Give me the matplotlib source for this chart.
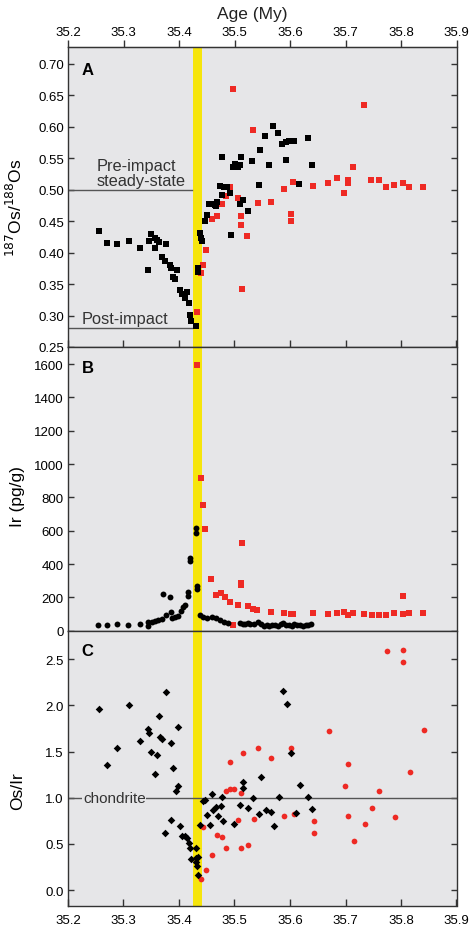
import numpy as np
import matplotlib.pyplot as plt

plt.rcParams['font.family'] = ['Liberation Sans', 'DejaVu Sans']

# ---- panel A: 187Os/188Os ----
a_blk_x = [35.255, 35.271, 35.289, 35.310, 35.329, 35.345, 35.346, 35.350, 35.356, 35.360,
           35.364, 35.356, 35.377, 35.369, 35.374, 35.384, 35.385, 35.397, 35.390, 35.393,
           35.402, 35.406, 35.411, 35.415, 35.410, 35.418, 35.420, 35.421, 35.430, 35.434,
           35.434, 35.438, 35.439, 35.441, 35.446, 35.450, 35.454, 35.460, 35.464, 35.468,
           35.467, 35.474, 35.478, 35.481, 35.486, 35.491, 35.477, 35.497, 35.501, 35.507,
           35.510, 35.512, 35.494, 35.510, 35.515, 35.524, 35.531, 35.545, 35.546, 35.555,
           35.569, 35.578, 35.563, 35.586, 35.592, 35.599, 35.607, 35.592, 35.617, 35.632,
           35.639]
a_blk_y = [0.434, 0.415, 0.413, 0.419, 0.408, 0.373, 0.418, 0.429, 0.423, 0.420,
           0.417, 0.408, 0.414, 0.393, 0.386, 0.381, 0.375, 0.372, 0.361, 0.358,
           0.340, 0.335, 0.332, 0.338, 0.328, 0.320, 0.301, 0.291, 0.284, 0.375,
           0.369, 0.432, 0.423, 0.418, 0.450, 0.460, 0.477, 0.478, 0.475, 0.481,
           0.474, 0.506, 0.492, 0.505, 0.505, 0.495, 0.552, 0.536, 0.541, 0.536,
           0.539, 0.552, 0.428, 0.477, 0.483, 0.466, 0.545, 0.508, 0.564, 0.585,
           0.602, 0.590, 0.539, 0.573, 0.576, 0.578, 0.577, 0.548, 0.509, 0.582,
           0.540]
a_red_x = [35.498, 35.534, 35.492, 35.485, 35.507, 35.477, 35.459, 35.468, 35.512, 35.512,
           35.522, 35.542, 35.448, 35.444, 35.440, 35.433, 35.513, 35.566, 35.589, 35.602,
           35.602, 35.605, 35.641, 35.669, 35.685, 35.697, 35.704, 35.704, 35.714, 35.734,
           35.746, 35.760, 35.773, 35.788, 35.803, 35.815, 35.840]
a_red_y = [0.661, 0.595, 0.504, 0.490, 0.487, 0.477, 0.454, 0.459, 0.459, 0.444,
           0.427, 0.479, 0.405, 0.380, 0.367, 0.306, 0.343, 0.481, 0.502, 0.462,
           0.451, 0.512, 0.506, 0.511, 0.519, 0.495, 0.515, 0.510, 0.536, 0.634,
           0.516, 0.516, 0.505, 0.507, 0.511, 0.504, 0.504]

# ---- panel B: Ir (pg/g) ----
b_blk_x = [35.254, 35.270, 35.288, 35.308, 35.329, 35.345, 35.345, 35.351, 35.357, 35.363,
           35.369, 35.372, 35.377, 35.384, 35.385, 35.387, 35.393, 35.399, 35.404, 35.408,
           35.411, 35.417, 35.417, 35.420, 35.420, 35.430, 35.430, 35.432, 35.432, 35.438,
           35.444, 35.451, 35.459, 35.467, 35.474, 35.481, 35.489, 35.510, 35.515, 35.519,
           35.524, 35.528, 35.535, 35.543, 35.548, 35.553, 35.558, 35.563, 35.568, 35.573,
           35.578, 35.583, 35.588, 35.593, 35.598, 35.603, 35.608, 35.613, 35.618, 35.623,
           35.628, 35.633, 35.638]
b_blk_y = [36, 36, 42, 34, 38, 50, 30, 54, 58, 62,
           70, 220, 94, 200, 110, 74, 80, 86, 120, 140,
           154, 210, 230, 434, 420, 614, 586, 270, 250, 94,
           80, 74, 80, 74, 66, 54, 44, 46, 40, 42,
           44, 42, 38, 50, 40, 30, 32, 28, 34, 36,
           30, 40, 46, 36, 34, 30, 38, 32, 36, 30,
           34, 36, 40]
b_red_x = [35.432, 35.439, 35.444, 35.447, 35.458, 35.467, 35.476, 35.483, 35.491, 35.506,
           35.513, 35.512, 35.512, 35.524, 35.533, 35.541, 35.498, 35.566, 35.589, 35.601,
           35.605, 35.641, 35.669, 35.685, 35.697, 35.704, 35.714, 35.734, 35.747, 35.760,
           35.773, 35.788, 35.803, 35.803, 35.815, 35.840]
b_red_y = [1596, 916, 756, 610, 310, 216, 226, 204, 170, 156,
           526, 286, 274, 150, 130, 124, 36, 110, 108, 102,
           102, 106, 100, 104, 114, 94, 106, 98, 96, 94,
           96, 106, 206, 98, 106, 106]

# ---- panel C: Os/Ir ----
c_blk_x = [35.255, 35.271, 35.289, 35.310, 35.329, 35.345, 35.346, 35.350, 35.357, 35.360,
           35.364, 35.366, 35.370, 35.377, 35.385, 35.398, 35.390, 35.398, 35.395, 35.374,
           35.386, 35.402, 35.406, 35.411, 35.415, 35.418, 35.419, 35.421, 35.431, 35.431,
           35.431, 35.432, 35.435, 35.434, 35.438, 35.443, 35.447, 35.450, 35.455, 35.460,
           35.462, 35.467, 35.470, 35.476, 35.478, 35.479, 35.500, 35.510, 35.515, 35.515,
           35.524, 35.533, 35.545, 35.547, 35.557, 35.565, 35.571, 35.580, 35.587, 35.594,
           35.602, 35.610, 35.618, 35.633, 35.640]
c_blk_y = [1.96, 1.36, 1.54, 2.00, 1.61, 1.75, 1.70, 1.50, 1.26, 1.46,
           1.89, 1.66, 1.64, 2.15, 1.59, 1.77, 1.32, 1.13, 1.07, 0.62,
           0.76, 0.69, 0.59, 0.58, 0.56, 0.51, 0.46, 0.34, 0.45, 0.35,
           0.30, 0.26, 0.36, 0.16, 0.70, 0.96, 0.97, 0.81, 0.70, 1.04,
           0.87, 0.90, 0.80, 0.91, 1.01, 0.75, 0.72, 0.92, 1.17, 1.11,
           0.89, 1.00, 0.82, 1.22, 0.87, 0.84, 0.69, 1.01, 2.16, 2.02,
           1.49, 0.83, 1.14, 1.01, 0.88]
c_red_x = [35.444, 35.440, 35.448, 35.459, 35.468, 35.477, 35.485, 35.485, 35.492, 35.492,
           35.500, 35.512, 35.507, 35.512, 35.515, 35.524, 35.536, 35.542, 35.566, 35.590,
           35.602, 35.607, 35.643, 35.643, 35.670, 35.699, 35.705, 35.705, 35.715, 35.736,
           35.747, 35.761, 35.775, 35.789, 35.804, 35.804, 35.817, 35.841]
c_red_y = [0.68, 0.12, 0.22, 0.38, 0.60, 0.57, 0.46, 1.07, 1.39, 1.09,
           1.10, 1.05, 0.76, 0.45, 1.49, 0.49, 0.77, 1.54, 1.43, 0.80,
           1.54, 0.82, 0.75, 0.62, 1.72, 1.13, 1.37, 0.80, 0.53, 0.71,
           0.89, 1.07, 2.59, 0.79, 2.60, 2.47, 1.28, 1.73]

age_ticks = [35.2, 35.3, 35.4, 35.5, 35.6, 35.7, 35.8, 35.9]
impact = (35.426, 35.441)

BG = '#e6e6e8'
RED = '#ee2a24'
GREY = '#333333'
W, H = 469, 928
fig = plt.figure(figsize=(W / 100, H / 100), dpi=100)

def box(top, bot):
    l, r = 68 / W, 456.5 / W
    return [l, 1 - bot / H, r - l, (bot - top) / H]

axA = fig.add_axes(box(48, 348))
axB = fig.add_axes(box(348, 631.7))
axC = fig.add_axes(box(631.7, 906.7))

for ax in (axA, axB, axC):
    ax.set_facecolor(BG)
    ax.set_xlim(35.2, 35.9)
    ax.axvspan(*impact, color='#f6e50c', lw=0, zorder=1)
    for s in ax.spines.values():
        s.set_color(GREY)
        s.set_linewidth(1.0)
    ax.tick_params(axis='y', direction='in', length=4, width=1, color=GREY,
                   right=True, labelsize=9.5, pad=3)
    ax.set_xticks(age_ticks)

# A
axA.scatter(a_red_x, a_red_y, marker='s', s=13, c=RED, lw=0, zorder=3)
axA.scatter(a_blk_x, a_blk_y, marker='s', s=17, c='black', lw=0, zorder=4)
axA.set_ylim(0.25, 0.727)
axA.set_yticks(np.arange(0.25, 0.71, 0.05))
axA.set_yticklabels(['%.2f' % v for v in np.arange(0.25, 0.71, 0.05)])
axA.tick_params(axis='x', top=False, bottom=True, labelbottom=False,
                direction='in', length=5, width=1, color=GREY)
top = axA.secondary_xaxis('top')
top.set_xticks(age_ticks)
top.tick_params(direction='out', length=5, width=1, color=GREY, labelsize=9.5, pad=1.5)
top.spines['top'].set_color(GREY)
fig.text(252 / W, 1 - 15 / H, 'Age (My)', fontsize=12.5, color='#222222',
         ha='center', va='center')
axA.set_ylabel(r'$^{187}$Os/$^{188}$Os', fontsize=12.5)
axA.yaxis.set_label_coords(-0.111, 0.467)
axA.plot([35.2, 35.424], [0.50, 0.50], color='#555555', lw=1, zorder=2)
axA.plot([35.2, 35.424], [0.28, 0.28], color='#555555', lw=1, zorder=2)
axA.text(35.251, 0.503, 'Pre-impact\nsteady-state', fontsize=11.8, color=GREY,
         va='bottom', ha='left', linespacing=1.0)
axA.text(35.224, 0.284, 'Post-impact', fontsize=11.8, color=GREY, va='bottom', ha='left')
axA.text(0.035, 0.95, 'A', transform=axA.transAxes, fontsize=12, fontweight='bold',
         va='top', ha='left')

# B
axB.scatter(b_red_x, b_red_y, marker='s', s=13, c=RED, lw=0, zorder=3)
axB.scatter(b_blk_x, b_blk_y, marker='o', s=18, c='black', lw=0, zorder=4)
axB.set_ylim(0, 1702)
axB.set_yticks(range(0, 1601, 200))
axB.tick_params(axis='x', bottom=False, labelbottom=False)
axB.set_ylabel('Ir (pg/g)', fontsize=12.5)
axB.yaxis.set_label_coords(-0.111, 0.475)
axB.text(0.035, 0.955, 'B', transform=axB.transAxes, fontsize=12, fontweight='bold',
         va='top', ha='left')

# C
axC.scatter(c_red_x, c_red_y, marker='o', s=17, c=RED, lw=0, zorder=3)
axC.scatter(c_blk_x, c_blk_y, marker='D', s=15, c='black', lw=0, zorder=4)
axC.set_ylim(-0.17, 2.81)
axC.set_yticks(np.arange(0, 2.51, 0.5))
axC.set_yticklabels(['%.1f' % v for v in np.arange(0, 2.51, 0.5)])
axC.axhline(1.0, color='#555555', lw=1, zorder=2)
axC.text(35.227, 1.0, 'chondrite', fontsize=11, color=GREY, va='center', ha='left',
         bbox=dict(facecolor=BG, edgecolor='none', pad=0.5), zorder=2.5)
axC.tick_params(axis='x', direction='in', length=5, width=1, color=GREY,
                labelsize=9.5, top=False, pad=6)
axC.set_ylabel('Os/Ir', fontsize=12.5)
axC.yaxis.set_label_coords(-0.111, 0.42)
axC.text(0.035, 0.955, 'C', transform=axC.transAxes, fontsize=12, fontweight='bold',
         va='top', ha='left')

fig.savefig('out.png', dpi=100)
